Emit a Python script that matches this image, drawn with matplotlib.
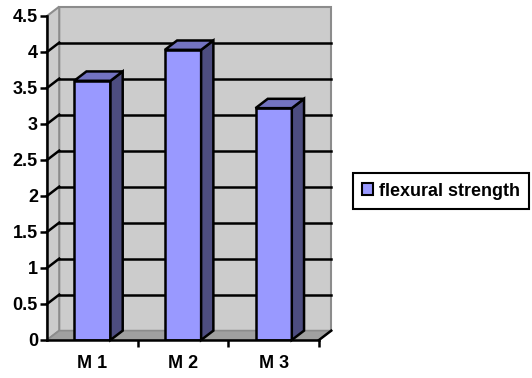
import matplotlib
matplotlib.use("Agg")
import matplotlib.pyplot as plt
from matplotlib.patches import Polygon, Patch

# flexural strength per mix
mixes = ["M 1", "M 2", "M 3"]
strength = [3.6, 4.03, 3.22]
yticks = [0, 0.5, 1, 1.5, 2, 2.5, 3, 3.5, 4, 4.5]

front_col = "#9999ff"
top_col = "#7373c0"
side_col = "#4d4d80"
wall_col = "#cccccc"
floor_col = "#a0a0a0"
edge_gray = "#8c8c8c"

plt.rcParams["font.family"] = ["Liberation Sans", "DejaVu Sans"]
plt.rcParams["font.weight"] = "bold"

fig = plt.figure(figsize=(5.32, 3.78), dpi=100)
ax = fig.add_axes([47/532, 1-340/378, 272/532, 324/378])
ax.set_xlim(0, 3)
ax.set_ylim(0, 4.5)

# depth offset of the 3d box, in data units
dx, dy = 0.135, 0.13
n = len(mixes)
ymax = yticks[-1]

# walls and floor
ax.add_patch(Polygon([(dx, dy), (n+dx, dy), (n+dx, ymax+dy), (dx, ymax+dy)],
                     closed=True, fc=wall_col, ec=edge_gray, lw=1.5, clip_on=False, zorder=0))
ax.add_patch(Polygon([(0, 0), (dx, dy), (dx, ymax+dy), (0, ymax)],
                     closed=True, fc=wall_col, ec=edge_gray, lw=1.5, clip_on=False, zorder=0))
ax.add_patch(Polygon([(0, 0), (n, 0), (n+dx, dy), (dx, dy)],
                     closed=True, fc=floor_col, ec=edge_gray, lw=1.2, clip_on=False, zorder=0.5))

# gridlines on the back and side walls
for v in yticks[1:-1]:
    ax.plot([dx, n+dx], [v+dy, v+dy], color="black", lw=1.8, clip_on=False, zorder=1)
    ax.plot([0, dx], [v, v+dy], color="black", lw=1.8, clip_on=False, zorder=1)

# bars
w = 0.4
for i, h in enumerate(strength):
    x0 = i + 0.5 - w/2
    x1 = x0 + w
    ax.bar(i + 0.5, h, width=w, color=front_col, edgecolor="black", lw=1.8, zorder=3)
    ax.add_patch(Polygon([(x1, 0), (x1+dx, dy), (x1+dx, h+dy), (x1, h)],
                         closed=True, fc=side_col, ec="black", lw=1.8, clip_on=False, zorder=3))
    ax.add_patch(Polygon([(x0, h), (x1, h), (x1+dx, h+dy), (x0+dx, h+dy)],
                         closed=True, fc=top_col, ec="black", lw=1.8, clip_on=False, zorder=3))

# floor front edge slant at the right end
ax.plot([n, n+dx], [0, dy], color="black", lw=1.8, clip_on=False, zorder=4)

ax.set_yticks(yticks)
ax.set_yticklabels([f"{v:g}" for v in yticks], fontsize=13, fontweight="bold")
ax.set_xticks([1, 2, 3])
ax.set_xticklabels([])
ax.set_xticks([0.5, 1.5, 2.5], minor=True)
ax.set_xticklabels(mixes, minor=True, fontsize=13, fontweight="bold")
ax.tick_params(axis="x", which="minor", length=0, pad=11)
ax.tick_params(axis="x", which="major", length=5, width=1.8, direction="out")
ax.tick_params(axis="y", length=5, width=1.8, direction="out", pad=1.5)
for s in ["top", "right"]:
    ax.spines[s].set_visible(False)
for s in ["left", "bottom"]:
    ax.spines[s].set_linewidth(1.8)
    ax.spines[s].set_zorder(5)
ax.patch.set_visible(False)

leg = fig.legend(handles=[Patch(fc=front_col, ec="black", lw=1.5, label="flexural strength")],
                 loc="center left", bbox_to_anchor=(353/532, 1-191/378),
                 fancybox=False, framealpha=1, edgecolor="black",
                 prop={"size": 13, "weight": "bold"},
                 handlelength=0.6, handleheight=0.6, handletextpad=0.35, borderpad=0.5,
                 borderaxespad=0)
leg.get_frame().set_linewidth(1.5)

fig.savefig("out.png", dpi=100)
